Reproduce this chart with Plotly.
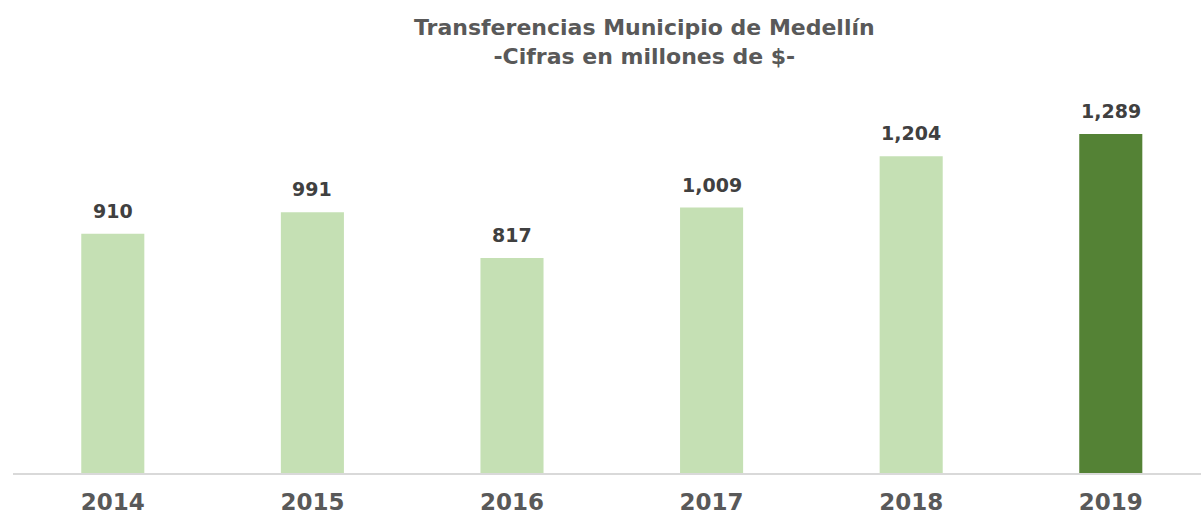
import plotly.graph_objects as go

years = ["2014", "2015", "2016", "2017", "2018", "2019"]
values = [910, 991, 817, 1009, 1204, 1289]
labels = ["910", "991", "817", "1,009", "1,204", "1,289"]
colors = ["#C5E0B4", "#C5E0B4", "#C5E0B4", "#C5E0B4", "#C5E0B4", "#548235"]

FONT = "DejaVu Sans"

fig = go.Figure()
fig.add_trace(go.Bar(
    x=years, y=values, marker=dict(color=colors, line=dict(width=0)),
    width=0.316, showlegend=False, hoverinfo="skip",
))
for i, (v, lab) in enumerate(zip(values, labels)):
    fig.add_annotation(x=i, y=v, text="<b>%s</b>" % lab, showarrow=False,
                       yanchor="bottom", yshift=10,
                       font=dict(family=FONT, size=19, color="#404040"))

fig.add_annotation(xref="paper", yref="paper", x=0.5316, y=1 + 48 / 383,
                   xanchor="center", yanchor="middle", showarrow=False,
                   text="<b>Transferencias Municipio de Medellín<br>-Cifras en millones de $-</b>",
                   font=dict(family=FONT, size=22, color="#595959"))

fig.update_layout(
    width=1201, height=516,
    margin=dict(l=13, r=0, t=90, b=43),
    paper_bgcolor="white", plot_bgcolor="white",
    xaxis=dict(type="category", range=[-0.5, 5.452], showline=True, linecolor="#D9D9D9",
               linewidth=2, showgrid=False, ticks="outside", ticklen=7, tickcolor="rgba(0,0,0,0)",
               tickfont=dict(family=FONT, size=23, color="#595959"), automargin=False,
               tickprefix="<b>", ticksuffix="</b>"),
    yaxis=dict(range=[0, 1456], visible=False, showgrid=False, zeroline=False),
)
fig.write_html("out.html", config={"displayModeBar": False},
               post_script="document.body.style.margin='0';document.body.style.overflow='hidden';")
